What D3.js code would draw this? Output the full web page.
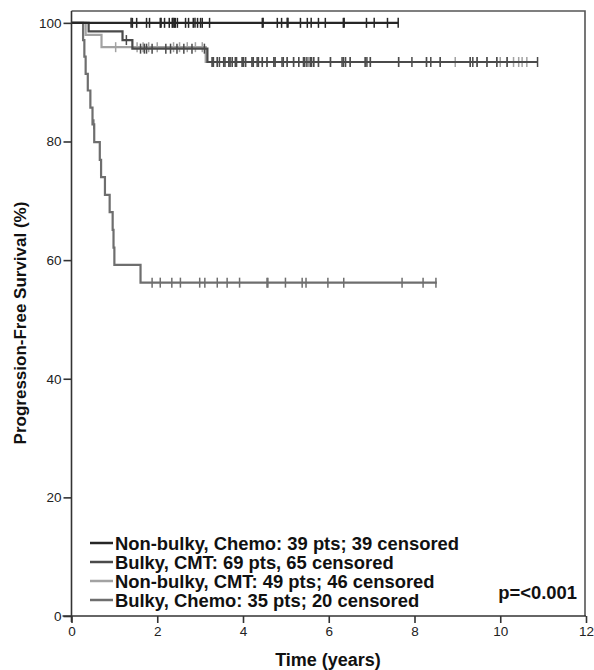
<!DOCTYPE html>
<html>
<head>
<meta charset="utf-8">
<script src="https://cdn.jsdelivr.net/npm/d3@7/dist/d3.min.js"></script>
<style>
  html, body { margin: 0; padding: 0; background: #fff; }
  svg { display: block; font-family: "Liberation Sans", Arial, sans-serif; }
</style>
</head>
<body>
<svg id="chart" width="594" height="670"></svg>
<script>
// Kaplan-Meier step data: event times (years) and survival (%) after each step
const nonBulkyChemoTimes = [0];
const nonBulkyChemoSurv = [100];
const nonBulkyChemoEnd = 7.62;
const nonBulkyChemoCensor = [1.39, 1.42, 1.52, 1.75, 1.82, 2.07, 2.09, 2.17, 2.28, 2.35, 2.37, 2.40, 2.42,
  2.47, 2.66, 2.73, 2.84, 2.88, 2.94, 3.01, 3.05, 3.22, 4.45, 4.47, 4.80, 4.90, 5.03, 5.05, 5.34, 5.50,
  5.59, 5.76, 5.92, 6.34, 6.36, 6.88, 7.06, 7.37, 7.62];

const bulkyCmtTimes = [0, 0.40, 1.19, 1.42, 3.17];
const bulkyCmtSurv = [100, 98.55, 97.1, 95.65, 93.4];
const bulkyCmtEnd = 10.87;
const bulkyCmtCensor = [1.28, 1.61, 1.70, 1.75, 1.88, 2.20, 2.31, 2.46, 2.62, 2.81, 3.10,
  3.28, 3.31, 3.40, 3.45, 3.55, 3.58, 3.67, 3.70, 3.75, 3.82, 3.85, 3.98, 4.01, 4.06, 4.21, 4.24, 4.33,
  4.36, 4.45, 4.56, 4.72, 4.75, 4.91, 4.94, 5.03, 5.18, 5.30, 5.41, 5.44, 5.49, 5.57, 5.60, 5.65, 5.76,
  6.04, 6.31, 6.34, 6.39, 6.50, 6.85, 6.89, 6.97, 7.63, 7.94, 8.28, 8.38, 8.60, 9.30, 9.36, 9.46, 9.69,
  9.92, 10.16, 10.87];

const nonBulkyCmtTimes = [0, 0.33, 0.70, 3.13];
const nonBulkyCmtSurv = [100, 97.96, 95.9, 93.4];
const nonBulkyCmtEnd = 10.62;
const nonBulkyCmtCensor = [1.03, 1.53, 1.67, 1.80, 2.00, 2.38, 2.52, 2.70, 2.89, 3.05,
  3.28, 3.40, 3.55, 3.67, 3.75, 3.98, 4.06, 4.21, 4.45, 4.56, 4.72, 5.03, 5.18, 5.30, 5.53, 5.65, 5.76,
  6.04, 6.39, 6.50, 6.85, 6.97, 7.63, 8.28, 8.60, 8.95, 9.30, 9.46, 9.69, 9.92, 10.00, 10.16, 10.31,
  10.43, 10.51, 10.62];

const bulkyChemoTimes = [0, 0.27, 0.30, 0.33, 0.38, 0.44, 0.49, 0.53, 0.66, 0.69, 0.78, 0.89, 0.96, 0.98, 1.00, 1.61];
const bulkyChemoSurv = [100, 97.1, 94.3, 91.4, 88.6, 85.7, 82.9, 79.9, 76.9, 74.0, 71.0, 68.1, 65.1, 62.1, 59.2, 56.2];
const bulkyChemoEnd = 8.52;
const bulkyChemoCensor = [0.52, 1.88, 2.07, 2.34, 2.54, 2.99, 3.11, 3.40, 3.63, 3.92, 4.56, 4.58,
  4.99, 5.38, 5.47, 5.98, 6.35, 7.71, 8.20, 8.50];

const groupLabels = [
  "Non-bulky, Chemo: 39 pts; 39 censored",
  "Bulky, CMT: 69 pts, 65 censored",
  "Non-bulky, CMT: 49 pts; 46 censored",
  "Bulky, Chemo: 35 pts; 20 censored"
];
const groupColors = ["#262626", "#4a4a4a", "#a2a2a2", "#6e6e6e"];

const xTicks = [0, 2, 4, 6, 8, 10, 12];
const yTicks = [0, 20, 40, 60, 80, 100];
const pValueText = "p=<0.001";

const series = [
  { times: nonBulkyChemoTimes, surv: nonBulkyChemoSurv, end: nonBulkyChemoEnd, censor: nonBulkyChemoCensor, label: groupLabels[0], color: groupColors[0] },
  { times: bulkyCmtTimes, surv: bulkyCmtSurv, end: bulkyCmtEnd, censor: bulkyCmtCensor, label: groupLabels[1], color: groupColors[1] },
  { times: nonBulkyCmtTimes, surv: nonBulkyCmtSurv, end: nonBulkyCmtEnd, censor: nonBulkyCmtCensor, label: groupLabels[2], color: groupColors[2] },
  { times: bulkyChemoTimes, surv: bulkyChemoSurv, end: bulkyChemoEnd, censor: bulkyChemoCensor, label: groupLabels[3], color: groupColors[3] }
];

const svg = d3.select("#chart");
const x = d3.scaleLinear().domain([0, 12]).range([71.5, 586]);
const y = d3.scaleLinear().domain([0, 102]).range([616, 11]);

// plot frame (top and right)
svg.append("path")
  .attr("d", `M${x(0)},${y(102)}H${x(12) - 1}V${y(0)}`)
  .attr("fill", "none").attr("stroke", "#555").attr("stroke-width", 1.6);

// survival value of a step curve at time t
function survAt(s, t) {
  let v = s.surv[0];
  for (let i = 0; i < s.times.length; i++) if (s.times[i] <= t) v = s.surv[i];
  return v;
}

const line = d3.line().x(d => x(d[0])).y(d => y(d[1])).curve(d3.curveStepAfter);

// draw order: light curve underneath, darker ones on top
const drawOrder = [2, 1, 3, 0];
drawOrder.forEach(i => {
  const s = series[i];
  const pts = s.times.map((t, k) => [t, s.surv[k]]);
  pts.push([s.end, s.surv[s.surv.length - 1]]);
  const g = svg.append("g");
  g.append("path").attr("d", line(pts))
    .attr("fill", "none").attr("stroke", s.color).attr("stroke-width", 2.2);
  g.selectAll("line.c").data(s.censor).join("line").attr("class", "c")
    .attr("x1", d => x(d)).attr("x2", d => x(d))
    .attr("y1", d => y(survAt(s, d)) - 5).attr("y2", d => y(survAt(s, d)) + 5)
    .attr("stroke", s.color).attr("stroke-width", 1.5);
});

// axes
const yAxis = svg.append("g").attr("transform", `translate(${x(0)},0)`)
  .call(d3.axisLeft(y).tickValues(yTicks).tickSize(8).tickPadding(2).tickSizeOuter(0));
const xAxis = svg.append("g").attr("transform", `translate(0,${y(0)})`)
  .call(d3.axisBottom(x).tickValues(xTicks).tickSize(7).tickPadding(3).tickSizeOuter(0));
[yAxis, xAxis].forEach(a => {
  a.select(".domain").attr("stroke", "#333").attr("stroke-width", 1.6);
  a.selectAll(".tick line").attr("stroke", "#333").attr("stroke-width", 1.6);
  a.selectAll(".tick text").attr("fill", "#222").style("font-size", "13.5px")
    .style("font-family", "'Liberation Sans', Arial, sans-serif");
});
yAxis.select(".domain").attr("d", `M0,${y(102)}V${y(0) + 6}`);
xAxis.select(".domain").attr("d", `M${x(0) - 9},0H${x(12)}`);

// axis titles
svg.append("text")
  .attr("transform", `translate(26,323) rotate(-90)`)
  .attr("text-anchor", "middle").attr("font-weight", "bold").attr("font-size", 17)
  .attr("fill", "#111").text("Progression-Free Survival (%)");
svg.append("text")
  .attr("x", 328).attr("y", 666)
  .attr("text-anchor", "middle").attr("font-weight", "bold").attr("font-size", 18)
  .attr("fill", "#111").text("Time (years)");

// legend
const legend = svg.append("g");
series.forEach((s, i) => {
  const cy = 543 + i * 19;
  legend.append("line").attr("x1", 90).attr("x2", 113).attr("y1", cy).attr("y2", cy)
    .attr("stroke", s.color).attr("stroke-width", 2.5);
  legend.append("text").attr("x", 115).attr("y", cy + 6.5)
    .attr("font-weight", "bold").attr("font-size", 18.4).attr("fill", "#111").text(s.label);
});

svg.append("text").attr("x", 577).attr("y", 598.5).attr("text-anchor", "end")
  .attr("font-weight", "bold").attr("font-size", 18.4).attr("fill", "#111").text(pValueText);
</script>
</body>
</html>
